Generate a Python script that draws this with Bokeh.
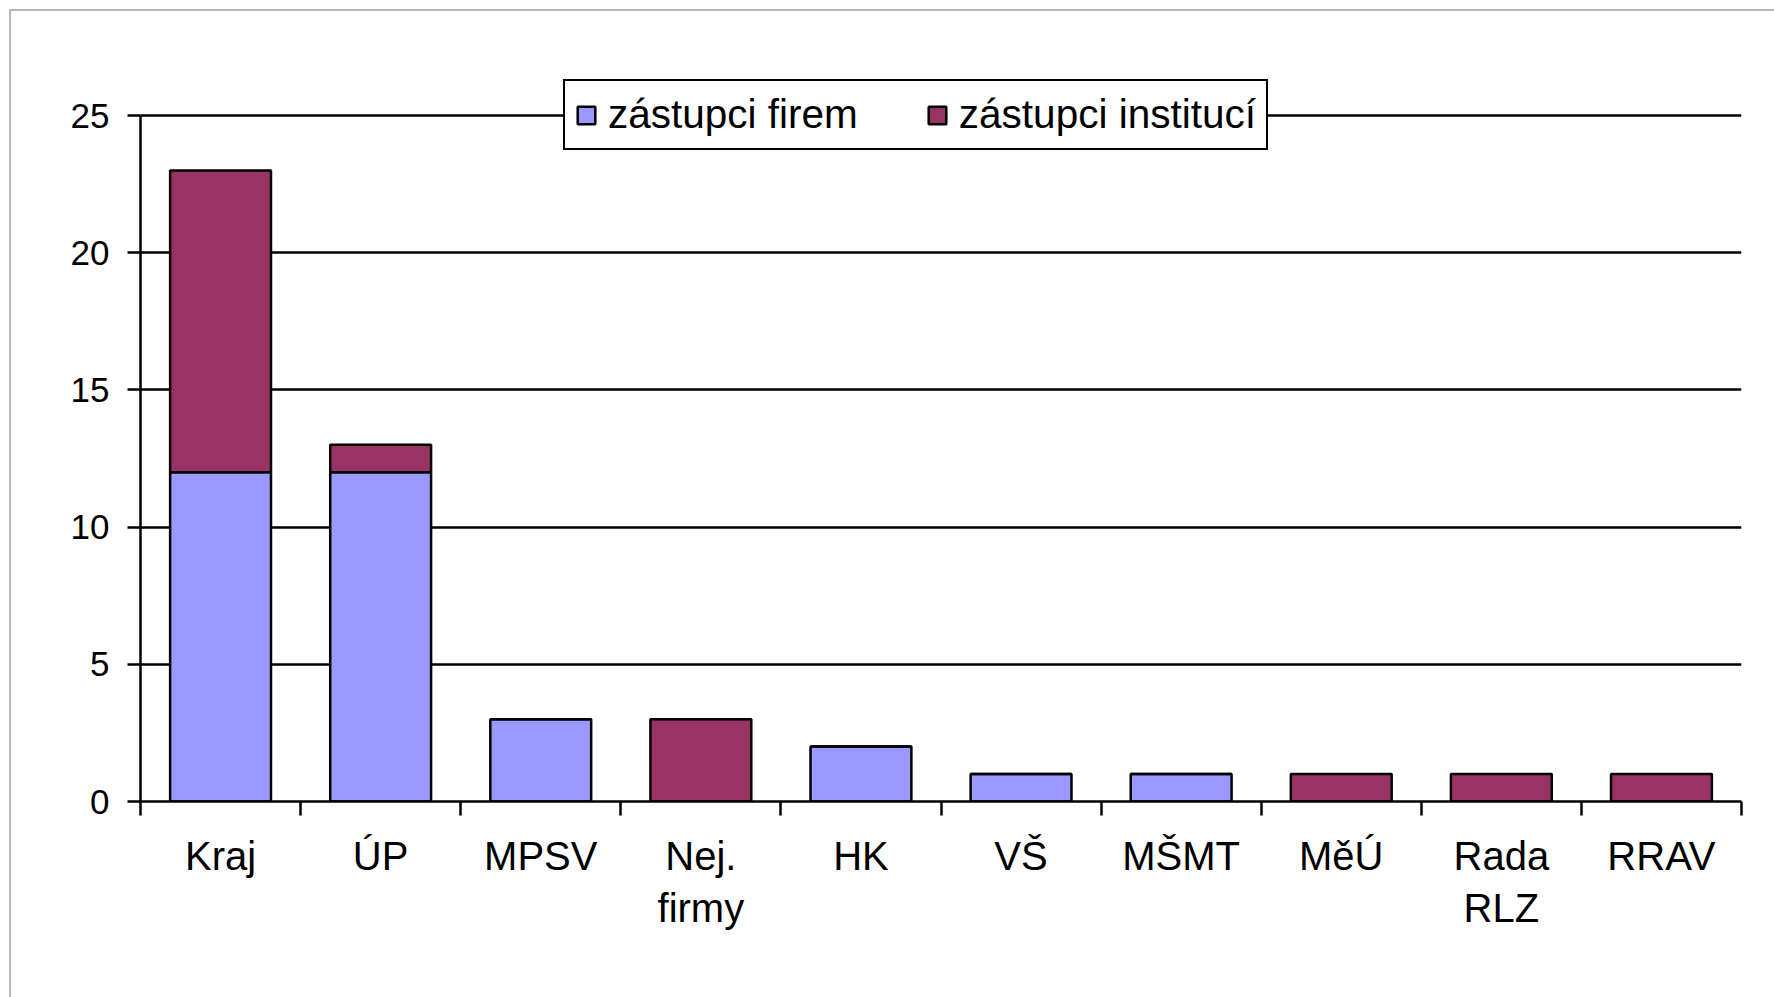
from bokeh.plotting import figure
from bokeh.models import FixedTicker, Range1d, Legend, LegendItem
from bokeh.embed import file_html
from bokeh.resources import INLINE

categories = ["Kraj", "ÚP", "MPSV", "Nej.\nfirmy", "HK", "VŠ", "MŠMT", "MěÚ", "Rada\nRLZ", "RRAV"]
firem = [12, 12, 3, 0, 2, 1, 1, 0, 0, 0]
instituci = [11, 1, 0, 3, 0, 0, 0, 1, 1, 1]
series_names = ["zástupci firem", "zástupci institucí"]
colors = ["#9999ff", "#993366"]
y_ticks = [0, 5, 10, 15, 20, 25]

FONT = "Liberation Sans"

xc = [i + 0.5 for i in range(len(categories))]
bounds = list(range(len(categories) + 1))

p = figure(
    frame_width=1601, frame_height=726,
    min_border_left=129, min_border_top=64, min_border_right=33, min_border_bottom=196,
    x_range=Range1d(0, len(categories)), y_range=Range1d(0, 26.458),
    output_backend="svg", toolbar_location=None,
    background_fill_color="white", border_fill_color="white",
)
p.outline_line_color = None
p.styles = {"margin-left": "9px", "margin-top": "9px",
            "border-left": "2px solid #b8b8b8", "border-top": "2px solid #b8b8b8"}

data = dict(x=xc, firem=firem, inst=instituci)
r = p.vbar_stack(["firem", "inst"], x="x", width=0.63, source=data,
                 fill_color=colors, line_color="black", line_width=2.5)

# axes
xa = p.xaxis[0]
xa.ticker = FixedTicker(ticks=xc, minor_ticks=bounds)
xa.major_label_overrides = {x: c for x, c in zip(xc, categories)}
xa.major_tick_out = 0
xa.major_tick_in = 0
xa.minor_tick_out = 14
xa.minor_tick_in = 0
xa.minor_tick_line_color = "black"
xa.minor_tick_line_width = 2.5
xa.axis_line_color = "black"
xa.axis_line_width = 2.5
xa.major_label_text_font = FONT
xa.major_label_text_font_size = "40px"
xa.major_label_text_color = "black"
xa.major_label_standoff = 18

ya = p.yaxis[0]
ya.ticker = FixedTicker(ticks=y_ticks)
ya.bounds = (0, 25)
ya.minor_tick_line_color = None
ya.major_tick_out = 13
ya.major_tick_in = 0
ya.major_tick_line_color = "black"
ya.major_tick_line_width = 2.5
ya.axis_line_color = "black"
ya.axis_line_width = 2.5
ya.major_label_text_font = FONT
ya.major_label_text_font_size = "35px"
ya.major_label_text_color = "black"
ya.major_label_standoff = 18

p.xgrid.grid_line_color = None
p.ygrid.ticker = FixedTicker(ticks=y_ticks)
p.ygrid.grid_line_color = "black"
p.ygrid.grid_line_width = 2.5

legend = Legend(
    items=[LegendItem(label=series_names[0], renderers=[r[0]]),
           LegendItem(label=series_names[1], renderers=[r[1]])],
    orientation="horizontal",
    location=(423, 651),
    label_text_font=FONT, label_text_font_size="40.5px", label_text_color="black",
    glyph_width=22, glyph_height=22, label_standoff=11, spacing=68,
    padding=10, margin=0,
    border_line_color="black", border_line_width=2.5, border_line_alpha=1.0,
    background_fill_color="white", background_fill_alpha=1.0,
)
p.add_layout(legend, "center")

open("out.html", "w").write(file_html(p, INLINE))
